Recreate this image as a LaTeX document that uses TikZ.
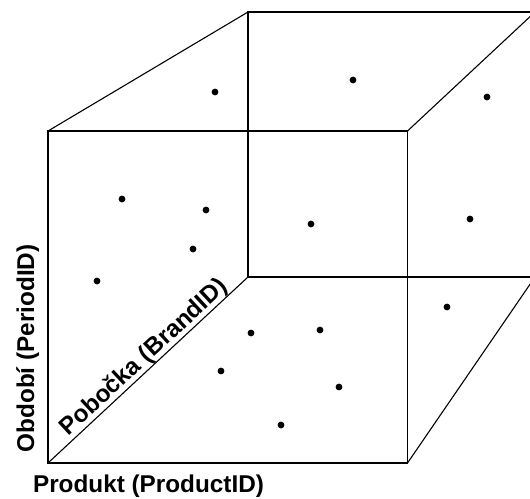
\documentclass[tikz,border=0pt]{standalone}
\usepackage{fontspec}
\setmainfont{Liberation Sans}
\begin{document}
\begin{tikzpicture}[x=1pt,y=-1pt,
  edge/.style={line width=1.1pt},
  cell/.style={circle,fill=black,inner sep=0pt,minimum size=6.8pt},
  axislabel/.style={font=\fontsize{24.3}{24.3}\selectfont\bfseries,inner sep=0pt,anchor=base}]
\useasboundingbox (0,0) rectangle (530,498);
\clip (0,0) rectangle (530,498);
% front face corners
\coordinate (F1) at (48,131);
\coordinate (F2) at (407.5,131);
\coordinate (F3) at (407.5,463);
\coordinate (F4) at (48,463);
% back face corners (right side runs past the edge)
\coordinate (B1) at (248,12);
\coordinate (B2) at (535,12);
\coordinate (B3) at (535,277);
\coordinate (B4) at (248,277);
\draw[edge] (F1) -- (F2) -- (F3) -- (F4) -- cycle;
\draw[edge] (B1) -- (B2) -- (B3) -- (B4) -- cycle;
\draw[edge] (F1) -- (B1) (F2) -- (B2) (F3) -- (B3);
\draw[edge] (F4) -- (B4);
% data points
\foreach \n/\x/\y in {a/215/92, b/353/80, c/487/97, d/122/199, e/206/210,
  f/193/249, g/311/224, h/470/219, i/97/281, j/251/333, k/221/371,
  l/447/307, m/320/330, n/339/387, o/281/425}
  \node[cell] (p\n) at (\x,\y) {};
% axis labels
\node[axislabel] (prod) at (148.5,492.5) {Produkt (ProductID)};
\node[axislabel,rotate=90] (per) at (34,348.5) {Období (PeriodID)};
\node[axislabel,rotate=42.9] (brand) at (148.5,362.5) {Pobočka (BrandID)};
\end{tikzpicture}
\end{document}
